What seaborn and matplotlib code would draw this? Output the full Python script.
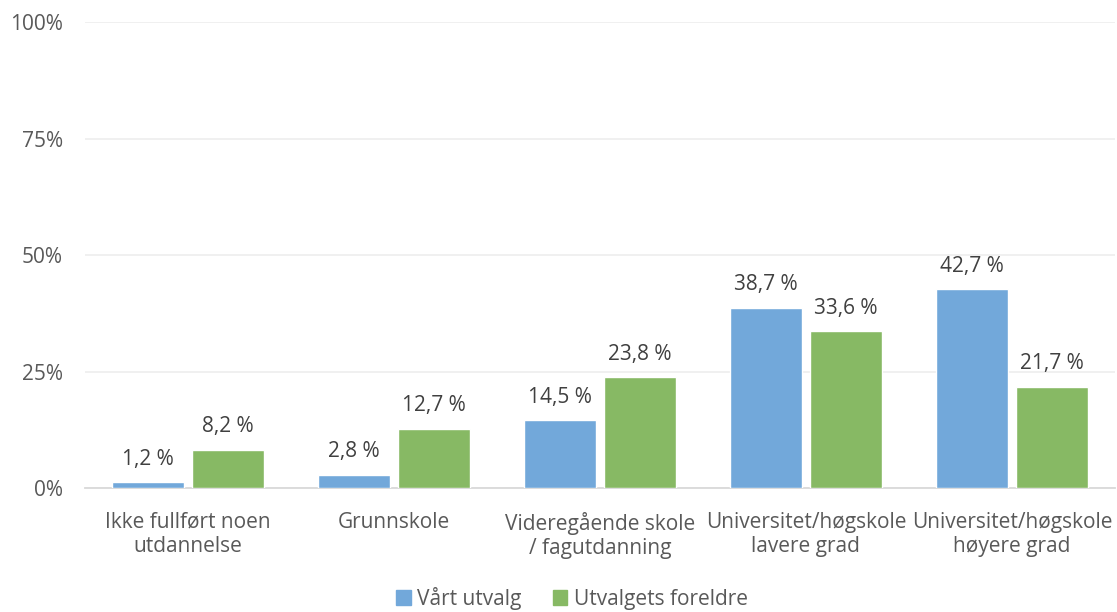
import pandas as pd
import seaborn as sns
import matplotlib.pyplot as plt

categories = ["Ikke fullført noen\nutdannelse", "Grunnskole",
              "Videregående skole\n/ fagutdanning", "Universitet/høgskole\nlavere grad",
              "Universitet/høgskole\nhøyere grad"]
series = ["Vårt utvalg", "Utvalgets foreldre"]
vaart_utvalg = [1.2, 2.8, 14.5, 38.7, 42.7]
foreldre = [8.2, 12.7, 23.8, 33.6, 21.7]
colors = ["#72A8DA", "#87B964"]

df = pd.DataFrame({
    "kategori": categories * 2,
    "serie": [series[0]] * 5 + [series[1]] * 5,
    "verdi": vaart_utvalg + foreldre,
})

sns.set_theme(style="white")
plt.rcParams["font.family"] = ["Open Sans", "DejaVu Sans"]
txt = "#595959"

fig = plt.figure(figsize=(11.17, 6.12), dpi=100)
ax = fig.add_axes([0.0761, 0.2026, 0.922, 0.7614])
sns.barplot(data=df, x="kategori", y="verdi", hue="serie", palette=colors,
            width=0.777, gap=0.1, ax=ax, saturation=1, zorder=3)

for cont, vals in zip(ax.containers, [vaart_utvalg, foreldre]):
    ax.bar_label(cont, labels=[f"{v:.1f} %".replace(".", ",") for v in vals],
                 padding=9, fontsize=15, color="#404040")

ax.set_ylim(0, 100)
ax.set_xlim(-0.5, 4.5)
ax.set_yticks([0, 25, 50, 75, 100])
ax.set_yticklabels([f"{t}%" for t in [0, 25, 50, 75, 100]])
ax.yaxis.grid(True, color="#EDEDED", linewidth=1.2, zorder=0)
ax.tick_params(axis="both", length=0, labelsize=15, colors=txt)
ax.tick_params(axis="y", pad=16)
ax.tick_params(axis="x", pad=17)
ax.set_xlabel("")
ax.set_ylabel("")
for s in ["top", "right", "left"]:
    ax.spines[s].set_visible(False)
ax.spines["bottom"].set_color("#D9D9D9")
ax.spines["bottom"].set_linewidth(1.3)

ax.legend_.remove()
handles = [plt.Rectangle((0, 0), 1, 1, color=c) for c in colors]
fig.legend(handles, series, loc="center", bbox_to_anchor=(0.512, 0.022),
           ncol=2, frameon=False, fontsize=15, handlelength=0.7, handleheight=0.7,
           handletextpad=0.3, columnspacing=1.5, labelcolor=txt, borderpad=0.1)

fig.savefig("out.png", dpi=100)
